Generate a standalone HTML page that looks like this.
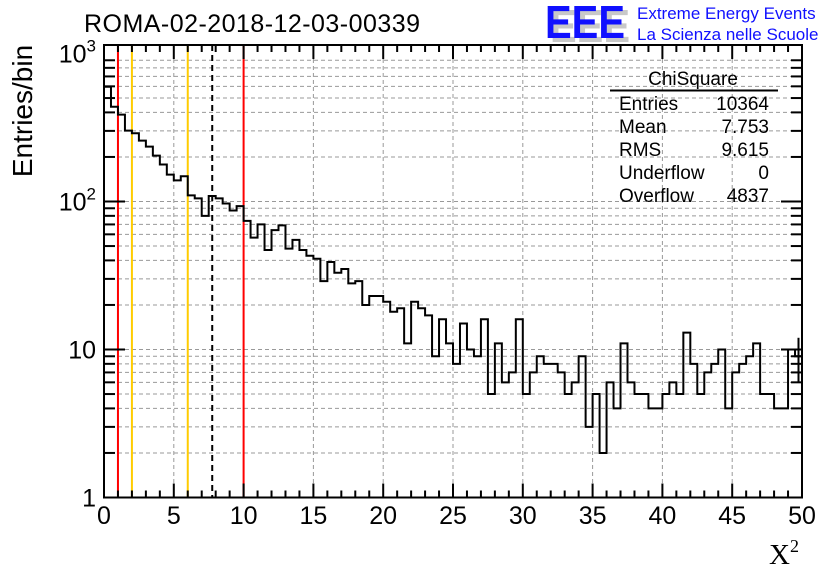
<!DOCTYPE html>
<html><head><meta charset="utf-8"><style>
body{margin:0;background:#fff;}
svg{display:block;font-family:"Liberation Sans",sans-serif;}
</style></head><body>
<svg id="c" width="836" height="572" xmlns="http://www.w3.org/2000/svg">
<rect width="836" height="572" fill="#fff"/>
<g id="grid"></g>
<g id="vlines"></g>
<path id="hist" fill="none" stroke="#000" stroke-width="2"/>
<g id="axes"></g>
<text x="84" y="32" font-size="25" textLength="336">ROMA-02-2018-12-03-00339</text>
<text transform="translate(32,111) rotate(-90)" text-anchor="middle" font-size="28">Entries/bin</text>
<text x="769" y="564" font-size="29" font-family="Liberation Serif,serif">X<tspan font-size="18" dy="-12">2</tspan></text>
<g>
<text x="550" y="42" font-size="46" font-weight="bold" fill="#c8c8c8" textLength="80" lengthAdjust="spacingAndGlyphs">EEE</text>
<text x="545" y="38" font-size="46" font-weight="bold" fill="#1010ff" textLength="80" lengthAdjust="spacingAndGlyphs">EEE</text>
<text x="637" y="19" font-size="17" fill="#1010ff">Extreme Energy Events</text>
<text x="637" y="40" font-size="17" fill="#1010ff">La Scienza nelle Scuole</text>
</g>
<g font-size="19">
<text x="693" y="85" text-anchor="middle">ChiSquare</text>
<line x1="610" y1="90.5" x2="778" y2="90.5" stroke="#000" stroke-width="2"/>
<text x="619" y="110">Entries</text><text x="769" y="110" text-anchor="end">10364</text>
<text x="619" y="133">Mean</text><text x="769" y="133" text-anchor="end">7.753</text>
<text x="619" y="156">RMS</text><text x="769" y="156" text-anchor="end">9.615</text>
<text x="619" y="179">Underflow</text><text x="769" y="179" text-anchor="end">0</text>
<text x="619" y="202">Overflow</text><text x="769" y="202" text-anchor="end">4837</text>
</g>
</svg>
<script>
const counts=[596,437,386,301,289,258,235,204,178,152,139,148,110,105,80,109,105,97,87,93,
74,57,70,47,64,69,48,55,47,43,41,29,39,33,35,28,29,20,23,23,
21,18,19,11,21,19,17,9,16,11,8,15,10,9,16,5,11,6,7,16,
5,7,9,8,8,7,5,6,9,3,5,2,6,4,11,6,5,5,4,4,
5,6,5,13,8,5,7,8,10,4,7,8,9,11,5,5,4,4,10,9];
const binWidth=0.5;
const xTicks=[0,5,10,15,20,25,30,35,40,45,50];
const yTicks=[1,10,100,1000];
const yTickLabels=["1","10","10²","10³"];
const markerValues=[1,2,6,10];
const markerColors=["#ff0000","#ffcc00","#ffcc00","#ff0000"];
const meanValue=7.753;

const L=104,R=802,T=45,B=497.5;
const X=v=>L+(v/50)*(R-L);
const Y=v=>B-Math.log10(v)/3*(B-53.5);
const NS="http://www.w3.org/2000/svg";
function mk(parent,tag,attrs){const e=document.createElementNS(NS,tag);for(const k in attrs)e.setAttribute(k,attrs[k]);parent.appendChild(e);return e;}
const grid=document.getElementById('grid'),axes=document.getElementById('axes'),vl=document.getElementById('vlines');
for(let d=0;d<3;d++)for(let m=1;m<=9;m++){
  const v=m*Math.pow(10,d);const y=Y(v);
  if(!(d===0&&m===1)){const g=mk(grid,'line',{x1:L,x2:R,y1:y,y2:y,stroke:'#999','stroke-width':1,'stroke-dasharray':'4,3'});
  
  }
  const len=m===1?21:11;
  const t1=mk(axes,'line',{x1:L,x2:L+len,y1:y,y2:y,stroke:'#000','stroke-width':2});
  
  
  const t2=mk(axes,'line',{x1:R-len,x2:R,y1:y,y2:y,stroke:'#000','stroke-width':2});
  
  
}
yTicks.forEach((v,i)=>{
  const y=Y(v);
  const t=mk(axes,'text',{x:96,y:y+9,'text-anchor':'end','font-size':25});
  if(v>=100){t.textContent='10';const s=mk(t,'tspan',{'font-size':17,dy:-11});s.textContent=String(Math.round(Math.log10(v)));}
  else t.textContent=yTickLabels[i];
  
  
});
for(let v=0;v<=50;v++){
  const x=X(v);const major=v%5===0;
  if(major&&v>0&&v<50){const g=mk(grid,'line',{x1:x,x2:x,y1:T,y2:B,stroke:'#999','stroke-width':1,'stroke-dasharray':'4,3'});
  
  }
  const len=major?14:7;
  const t1=mk(axes,'line',{x1:x,x2:x,y1:B,y2:B-len,stroke:'#000','stroke-width':2});
  
  
  const t2=mk(axes,'line',{x1:x,x2:x,y1:T,y2:T+len,stroke:'#000','stroke-width':2});
  
  
}
xTicks.forEach(v=>{
  const t=mk(axes,'text',{x:X(v),y:524,'text-anchor':'middle','font-size':25});
  t.textContent=String(v);
  
  
});
markerValues.forEach((v,i)=>{
  const l=mk(vl,'line',{x1:X(v),x2:X(v),y1:T,y2:B,stroke:markerColors[i],'stroke-width':2});
  
  
});
const ml=mk(vl,'line',{x1:X(meanValue),x2:X(meanValue),y1:T,y2:B,stroke:'#000','stroke-width':2,'stroke-dasharray':'6,4'});


let d='M'+X(0)+','+B;
counts.forEach((c,i)=>{const y=Y(c);d+=' L'+X(i*binWidth)+','+y+' L'+X((i+1)*binWidth)+','+y;});
document.getElementById('hist').setAttribute('d',d);
const lastI=counts.length-1,lc=counts[lastI],lx=X((lastI+0.5)*binWidth);
const eb=mk(axes,'line',{x1:lx,x2:lx,y1:Y(lc+Math.sqrt(lc)),y2:Y(lc-Math.sqrt(lc)),stroke:'#000','stroke-width':2});


const f=mk(axes,'rect',{x:L,y:T,width:R-L,height:B-T,fill:'none',stroke:'#000','stroke-width':2});


</script>
</body></html>
